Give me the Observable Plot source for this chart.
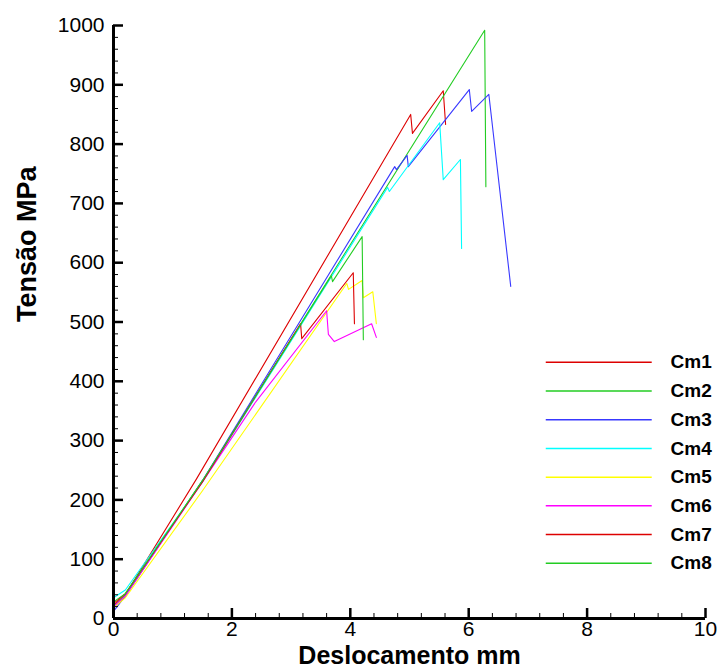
<!DOCTYPE html>
<html>
<head>
<meta charset="utf-8">
<script src="https://cdn.jsdelivr.net/npm/d3@7"></script>
<script src="https://cdn.jsdelivr.net/npm/@observablehq/plot@0.6"></script>
<style>
  body { margin: 0; background: #fff; }
  svg { font-family: "Liberation Sans", Arial, sans-serif; }
</style>
</head>
<body>
<div id="chart"></div>
<script>
// Specimen names and line colours
const series = ["Cm1", "Cm2", "Cm3", "Cm4", "Cm5", "Cm6", "Cm7", "Cm8"];
const colors = ["#dd0000", "#22cc22", "#3838ff", "#00ffff", "#ffff00", "#ff00ff", "#dd0000", "#22cc22"];

// Load–displacement curves: [displacement (mm), stress (MPa)]
const cm1 = [[0, 22], [0.2, 40], [1.4, 235], [5.02, 850], [5.05, 818], [5.57, 890], [5.61, 833]];
const cm2 = [[0, 20], [0.2, 40], [1.5, 232], [6.27, 992], [6.29, 728]];
const cm3 = [[0, 12], [0.2, 38], [1.5, 232], [4.75, 762], [4.78, 757], [4.96, 781], [4.98, 762],
             [6.01, 892], [6.05, 855], [6.34, 884], [6.71, 560]];
const cm4 = [[0, 35], [0.2, 48], [1.5, 230], [4.63, 727], [4.66, 720], [5.51, 836], [5.57, 740],
             [5.86, 774], [5.88, 624]];
const cm5 = [[0, 18], [0.2, 35], [1.5, 215], [3.94, 565], [3.97, 555], [4.2, 570], [4.22, 541],
             [4.38, 551], [4.44, 497]];
const cm6 = [[0, 20], [0.2, 38], [1.5, 230], [2.4, 365], [3.6, 519], [3.63, 479], [3.73, 467],
             [4.36, 497], [4.44, 474]];
const cm7 = [[0, 25], [0.2, 42], [1.5, 230], [3.16, 497], [3.18, 472], [4.05, 583], [4.07, 497]];
const cm8 = [[0, 28], [0.2, 42], [1.5, 232], [3.68, 578], [3.70, 568], [4.2, 644], [4.22, 470]];

// Tick values
const xTicks = [0, 2, 4, 6, 8, 10];
const xMinor = d3.range(0, 10.001, 0.4);
const yTicks = [0, 100, 200, 300, 400, 500, 600, 700, 800, 900, 1000];
const yMinor = d3.range(0, 1000.001, 20);

const curves = [cm1, cm2, cm3, cm4, cm5, cm6, cm7, cm8];
const rows = curves.flatMap((pts, i) => pts.map(([x, y]) => ({serie: series[i], x, y})));

// Legend placement (in data units, lower right of the frame)
const legendTop = 432, legendStep = 48.4;
const legendX1 = 7.31, legendX2 = 9.1, legendTextX = 9.41;
const legendY = (d, i) => legendTop - i * legendStep;

const chart = Plot.plot({
  width: 723,
  height: 670,
  marginLeft: 113,
  marginRight: 18,
  marginTop: 25,
  marginBottom: 52,
  x: {domain: [0, 10], label: null},
  y: {domain: [0, 1000], label: null},
  color: {domain: series, range: colors},
  style: {fontFamily: "'Liberation Sans', Arial, sans-serif", background: "white", color: "black", overflow: "visible"},
  marks: [
    Plot.line(rows, {x: "x", y: "y", z: "serie", stroke: "serie", strokeWidth: 1.1}),
    // inward ticks
    Plot.ruleX(xMinor, {x: d => d, y1: 0, y2: 0, insetTop: -5, stroke: "black", strokeWidth: 1}),
    Plot.ruleX(xTicks, {x: d => d, y1: 0, y2: 0, insetTop: -10, stroke: "black", strokeWidth: 2.5}),
    Plot.ruleY(yMinor, {y: d => d, x1: 0, x2: 0, insetRight: -5, stroke: "black", strokeWidth: 1}),
    Plot.ruleY(yTicks, {y: d => d, x1: 0, x2: 0, insetRight: -10, stroke: "black", strokeWidth: 2.5}),
    // axis lines
    Plot.ruleX([0], {y1: 0, y2: 1000, stroke: "black", strokeWidth: 3}),
    Plot.ruleY([0], {x1: 0, x2: 10, stroke: "black", strokeWidth: 3}),
    // tick labels
    Plot.axisX(xTicks, {tickSize: 0, tickPadding: 3, fontSize: 21, tickFormat: "d", label: null}),
    Plot.axisY(yTicks, {tickSize: 0, tickPadding: 9, fontSize: 21, tickFormat: "d", label: null}),
    // axis titles
    Plot.text(["Deslocamento mm"], {text: d => d, frameAnchor: "bottom", dy: 37, fontSize: 25, fontWeight: "bold", lineAnchor: "middle"}),
    Plot.text(["Tensão MPa"], {text: d => d, frameAnchor: "left", rotate: -90, dx: -86, fontSize: 27, fontWeight: "bold"}),
    // legend
    Plot.ruleY(series, {y: legendY, x1: legendX1, x2: legendX2, stroke: d => d, strokeWidth: 1.5}),
    Plot.text(series, {x: legendTextX, y: legendY, text: d => d, textAnchor: "start", fontSize: 19, fontWeight: "bold", fill: "black"})
  ]
});

document.getElementById("chart").append(chart);
</script>
</body>
</html>
